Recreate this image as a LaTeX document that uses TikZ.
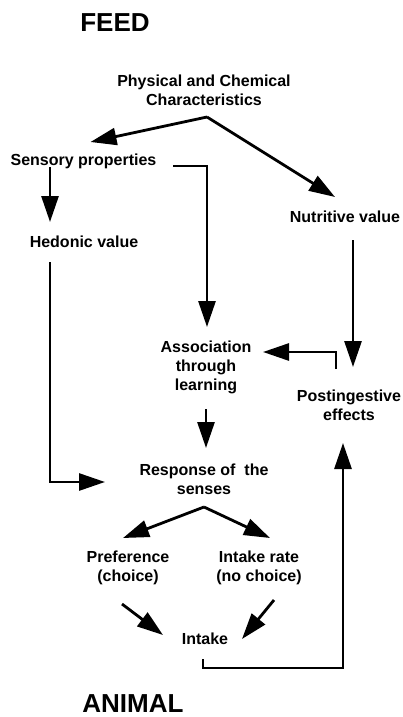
\documentclass[tikz,border=0pt]{standalone}
\usepackage{fontspec}
\setmainfont{Liberation Sans}
\usetikzlibrary{arrows.meta,calc}
\begin{document}
\begin{tikzpicture}[x=1pt,y=-1pt,
  lbl/.style={font=\bfseries\fontsize{16}{19}\selectfont, align=center, inner sep=0pt},
  big/.style={font=\bfseries\fontsize{26}{30}\selectfont, inner sep=0pt},
  arr/.style={line width=2.8pt, -{Triangle[length=26pt,width=17pt]}}]
\useasboundingbox (0,0) rectangle (402,717);
\node[big] (feed) at (115,23) {FEED};
\node[big] (animal) at (133,704) {ANIMAL};
\node[lbl] (phys) at (204,90.5) {Physical and Chemical\\Characteristics};
\node[lbl] (sens) at (83.5,161) {Sensory properties};
\node[lbl] (nutr) at (345,217) {Nutritive value};
\node[lbl] (hed) at (84,242) {Hedonic value};
\node[lbl] (assoc) at (206,367) {Association\\through\\learning};
\node[lbl] (post) at (349,405) {Postingestive\\effects};
\node[lbl] (resp) at (204,479.5) {Response of\ \ the\\senses};
\node[lbl] (pref) at (128,567.5) {Preference\\(choice)};
\node[lbl] (rate) at (259,567.5) {Intake rate\\(no choice)};
\node[lbl] (intake) at (205,639) {Intake};

\draw[arr] ($(phys)+(3,26.5)$) -- ($(sens)+(7,-19)$);
\draw[arr] ($(phys)+(3,26.5)$) -- ($(nutr)+(-10,-20)$);
\draw[arr] ($(sens)+(-33.5,6)$) -- ($(hed)+(-34,-20)$);
\draw[arr] ($(sens)+(89.5,5)$) -| ($(assoc)+(1,-40)$);
\draw[arr] ($(hed)+(-34,20)$) |- ($(resp)+(-99,2.5)$);
\draw[arr] ($(nutr)+(8,23)$) -- ($(post)+(4,-38)$);
\draw[arr] ($(post)+(-13,-36)$) |- ($(assoc)+(57,-15)$);
\draw[arr] ($(assoc)+(0,42)$) -- ($(resp)+(2,-31.5)$);
\draw[arr] ($(resp)+(0,27.5)$) -- ($(pref)+(-5,-29.5)$);
\draw[arr] ($(resp)+(0,27.5)$) -- ($(rate)+(11,-29.5)$);
\draw[arr] ($(pref)+(-6,36.5)$) -- ($(intake)+(-42,-4)$);
\draw[arr] ($(rate)+(15,32.5)$) -- ($(intake)+(37,0)$);
\draw[arr] ($(intake)+(-2,20)$) -- ($(intake)+(-2,29)$) -| ($(post)+(-6,38)$);
\end{tikzpicture}
\end{document}
